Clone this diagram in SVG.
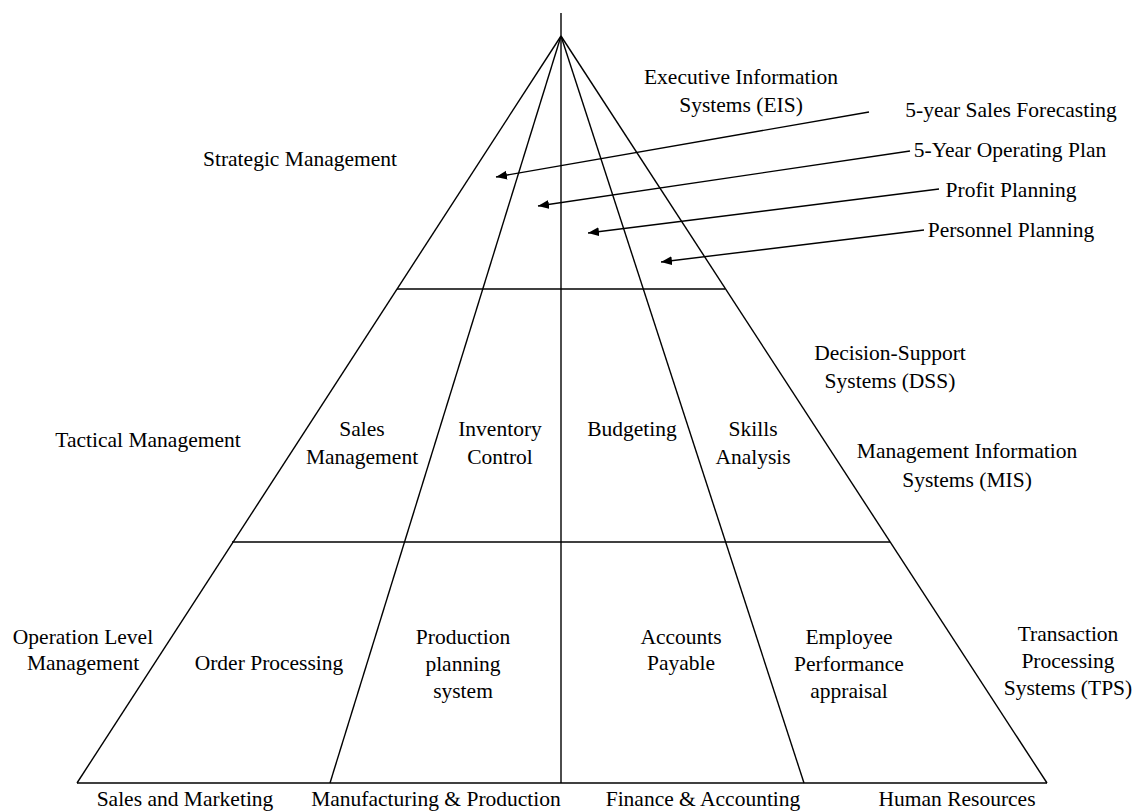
<svg xmlns="http://www.w3.org/2000/svg" width="1139" height="812" viewBox="0 0 1139 812">
  <style>
    .ln { stroke: #000; stroke-width: 1.4; fill: none; }
    .t { font-family: "Liberation Serif", "Times New Roman", serif; font-size: 21.5px; fill: #000; text-anchor: middle; }
  </style>
  <defs>
    <marker id="arrow" markerUnits="userSpaceOnUse" markerWidth="12" markerHeight="10" refX="11" refY="4.5" orient="auto">
      <path d="M0,0 L11,4.5 L0,9 z" fill="#000"/>
    </marker>
  </defs>
  <rect width="1139" height="812" fill="#fff"/>

  <!-- pyramid frame -->
  <g id="pyramid">
    <line class="ln" x1="561" y1="13" x2="561" y2="783"/>
    <line class="ln" x1="561" y1="36" x2="77" y2="783"/>
    <line class="ln" x1="561" y1="36" x2="1047" y2="783"/>
    <line class="ln" x1="561" y1="36" x2="330" y2="783"/>
    <line class="ln" x1="561" y1="36" x2="804" y2="783"/>
    <line class="ln" x1="77" y1="783" x2="1047" y2="783"/>
    <line class="ln" x1="397" y1="289" x2="725" y2="289"/>
    <line class="ln" x1="232" y1="542" x2="890" y2="542"/>
  </g>

  <!-- planning arrows into the strategic tier -->
  <g id="connectors" class="ln">
    <line x1="869" y1="112" x2="496" y2="177" marker-end="url(#arrow)"/>
    <line x1="910" y1="151" x2="538" y2="206" marker-end="url(#arrow)"/>
    <line x1="939" y1="189" x2="588" y2="233" marker-end="url(#arrow)"/>
    <line x1="924" y1="230" x2="661" y2="262" marker-end="url(#arrow)"/>
  </g>

  <!-- management levels -->
  <g id="strategic-management"><text class="t" x="300" y="166">Strategic Management</text></g>
  <g id="tactical-management"><text class="t" x="148" y="447">Tactical Management</text></g>
  <g id="operation-level-management">
    <text class="t" x="83" y="644">Operation Level</text>
    <text class="t" x="83" y="670">Management</text>
  </g>

  <!-- system types -->
  <g id="eis">
    <text class="t" x="741" y="84">Executive Information</text>
    <text class="t" x="741" y="112">Systems (EIS)</text>
  </g>
  <g id="dss">
    <text class="t" x="890" y="360">Decision-Support</text>
    <text class="t" x="890" y="388">Systems (DSS)</text>
  </g>
  <g id="mis">
    <text class="t" x="967" y="458">Management Information</text>
    <text class="t" x="967" y="487">Systems (MIS)</text>
  </g>
  <g id="tps">
    <text class="t" x="1068" y="641">Transaction</text>
    <text class="t" x="1068" y="668">Processing</text>
    <text class="t" x="1068" y="695">Systems (TPS)</text>
  </g>

  <!-- strategic plans -->
  <g id="sales-forecasting"><text class="t" x="1011" y="117">5-year Sales Forecasting</text></g>
  <g id="operating-plan"><text class="t" x="1010" y="157">5-Year Operating Plan</text></g>
  <g id="profit-planning"><text class="t" x="1011" y="197">Profit Planning</text></g>
  <g id="personnel-planning"><text class="t" x="1011" y="237">Personnel Planning</text></g>

  <!-- tactical tier -->
  <g id="sales-management">
    <text class="t" x="362" y="436">Sales</text>
    <text class="t" x="362" y="464">Management</text>
  </g>
  <g id="inventory-control">
    <text class="t" x="500" y="436">Inventory</text>
    <text class="t" x="500" y="464">Control</text>
  </g>
  <g id="budgeting"><text class="t" x="632" y="436">Budgeting</text></g>
  <g id="skills-analysis">
    <text class="t" x="753" y="436">Skills</text>
    <text class="t" x="753" y="464">Analysis</text>
  </g>

  <!-- operational tier -->
  <g id="order-processing"><text class="t" x="269" y="670">Order Processing</text></g>
  <g id="production-planning">
    <text class="t" x="463" y="644">Production</text>
    <text class="t" x="463" y="671">planning</text>
    <text class="t" x="463" y="698">system</text>
  </g>
  <g id="accounts-payable">
    <text class="t" x="681" y="644">Accounts</text>
    <text class="t" x="681" y="670">Payable</text>
  </g>
  <g id="employee-appraisal">
    <text class="t" x="849" y="644">Employee</text>
    <text class="t" x="849" y="671">Performance</text>
    <text class="t" x="849" y="698">appraisal</text>
  </g>

  <!-- functional areas -->
  <g id="sales-and-marketing"><text class="t" x="185" y="806">Sales and Marketing</text></g>
  <g id="manufacturing"><text class="t" x="436" y="806">Manufacturing &amp; Production</text></g>
  <g id="finance"><text class="t" x="703" y="806">Finance &amp; Accounting</text></g>
  <g id="human-resources"><text class="t" x="957" y="806">Human Resources</text></g>
</svg>
